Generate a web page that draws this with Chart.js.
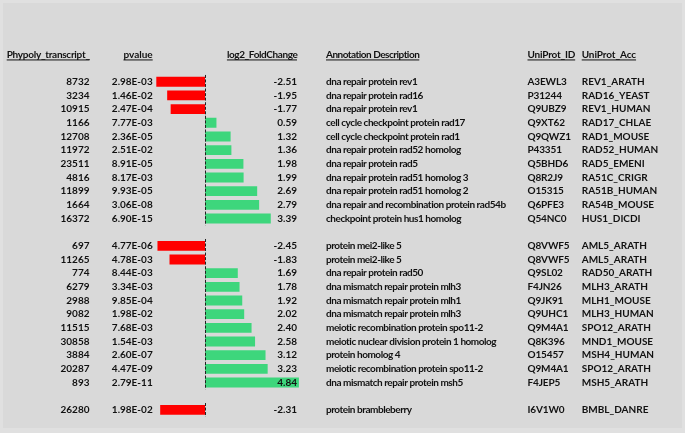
<!DOCTYPE html>
<html>
<head>
<meta charset="utf-8">
<script src="https://cdn.jsdelivr.net/npm/chart.js@4"></script>
<style>
  html, body { margin: 0; padding: 0; background: #e2e2e2; }
  #wrap { width: 685px; height: 433px; }
</style>
</head>
<body>
<div id="wrap"><canvas id="c" width="685" height="433"></canvas></div>
<script>
const headers = ['Phypoly_transcript_', 'pvalue', 'log2_FoldChange', 'Annotation Description', 'UniProt_ID', 'UniProt_Acc'];
const groupSizes = [11, 11, 1];
const transcripts = ['8732','3234','10915','1166','12708','11972','23511','4816','11899','1664','16372','697','11265','774','6279','2988','9082','11515','30858','3884','20287','893','26280'];
const pvalues = ['2.98E-03','1.46E-02','2.47E-04','7.77E-03','2.36E-05','2.51E-02','8.91E-05','8.17E-03','9.93E-05','3.06E-08','6.90E-15','4.77E-06','4.78E-03','8.44E-03','3.34E-03','9.85E-04','1.98E-02','7.68E-03','1.54E-03','2.60E-07','4.47E-09','2.79E-11','1.98E-02'];
const log2fc = [-2.51,-1.95,-1.77,0.59,1.32,1.36,1.98,1.99,2.69,2.79,3.39,-2.45,-1.83,1.69,1.78,1.92,2.02,2.40,2.58,3.12,3.23,4.84,-2.31];
const descriptions = ['dna repair protein rev1','dna repair protein rad16','dna repair protein rev1','cell cycle checkpoint protein rad17','cell cycle checkpoint protein rad1','dna repair protein rad52 homolog','dna repair protein rad5','dna repair protein rad51 homolog 3','dna repair protein rad51 homolog 2','dna repair and recombination protein rad54b','checkpoint protein hus1 homolog','protein mei2-like 5','protein mei2-like 5','dna repair protein rad50','dna mismatch repair protein mlh3','dna mismatch repair protein mlh1','dna mismatch repair protein mlh3','meiotic recombination protein spo11-2','meiotic nuclear division protein 1 homolog','protein homolog 4','meiotic recombination protein spo11-2','dna mismatch repair protein msh5','protein brambleberry'];
const uniprotIds = ['A3EWL3','P31244','Q9UBZ9','Q9XT62','Q9QWZ1','P43351','Q5BHD6','Q8R2J9','O15315','Q6PFE3','Q54NC0','Q8VWF5','Q8VWF5','Q9SL02','F4JN26','Q9JK91','Q9UHC1','Q9M4A1','Q8K396','O15457','Q9M4A1','F4JEP5','I6V1W0'];
const uniprotAccs = ['REV1_ARATH','RAD16_YEAST','REV1_HUMAN','RAD17_CHLAE','RAD1_MOUSE','RAD52_HUMAN','RAD5_EMENI','RA51C_CRIGR','RA51B_HUMAN','RA54B_MOUSE','HUS1_DICDI','AML5_ARATH','AML5_ARATH','RAD50_ARATH','MLH3_ARATH','MLH1_MOUSE','MLH3_HUMAN','SPO12_ARATH','MND1_MOUSE','MSH4_HUMAN','SPO12_ARATH','MSH5_ARATH','BMBL_DANRE'];

// Build row table: header row, blank row, then groups separated by blank rows
const rows = [{type: 'header'}, {type: 'blank'}];
let k = 0;
groupSizes.forEach((n, gi) => {
  if (gi > 0) rows.push({type: 'blank'});
  for (let j = 0; j < n; j++, k++) rows.push({type: 'data', idx: k});
});
const labels = rows.map((r, i) => 'r' + i);
const values = rows.map(r => r.type === 'data' ? log2fc[r.idx] : null);
const colors = rows.map(r => (r.type === 'data' && log2fc[r.idx] < 0) ? '#ff0000' : '#3dd67c');

const FONT = 'bold 10px Lato, "Open Sans", sans-serif';
const TEXT = '#111111';

const bgPlugin = {
  id: 'bg',
  beforeDraw(chart) {
    const ctx = chart.ctx;
    ctx.save();
    ctx.fillStyle = '#e0e0e0';
    ctx.fillRect(0, 0, chart.width, chart.height);
    ctx.fillStyle = '#d9d9d9';
    ctx.fillRect(3, 3, chart.width - 6, chart.height - 8);
    ctx.restore();
  }
};

const tablePlugin = {
  id: 'table',
  afterDatasetsDraw(chart) {
    const ctx = chart.ctx;
    const y = chart.scales.y;
    const x = chart.scales.x;
    const zx = x.getPixelForValue(0);
    const band = y.getPixelForValue(1) - y.getPixelForValue(0);
    ctx.save();
    // dashed zero line on data rows
    ctx.strokeStyle = '#222';
    ctx.lineWidth = 1;
    ctx.setLineDash([3, 1.5]);
    rows.forEach((r, i) => {
      if (r.type !== 'data') return;
      const cy = y.getPixelForValue(i);
      ctx.beginPath();
      ctx.moveTo(Math.round(zx) + 0.5, cy - band / 2);
      ctx.lineTo(Math.round(zx) + 0.5, cy + band / 2);
      ctx.stroke();
    });
    ctx.setLineDash([]);
    ctx.font = FONT;
    ctx.fillStyle = TEXT;
    ctx.textBaseline = 'middle';
    const cols = [
      {x: 89.5, align: 'right', ls: 0, hls: -0.28},
      {x: 152.7, align: 'right', ls: 0, hls: 0},
      {x: 297, align: 'right', ls: 0, hls: -0.4},
      {x: 326, align: 'left', ls: -0.45, hls: -0.5},
      {x: 527.5, align: 'left', ls: -0.15, hls: -0.2},
      {x: 581.7, align: 'left', ls: 0, hls: -0.1}
    ];
    rows.forEach((r, i) => {
      const cy = y.getPixelForValue(i);
      let cells = null;
      const isHead = r.type === 'header';
      if (isHead) cells = headers;
      else if (r.type === 'data') {
        const d = r.idx;
        cells = [transcripts[d], pvalues[d], log2fc[d].toFixed(2), descriptions[d], uniprotIds[d], uniprotAccs[d]];
      }
      if (!cells) return;
      cells.forEach((t, c) => {
        const sp = isHead ? cols[c].hls : cols[c].ls;
        ctx.letterSpacing = sp + 'px';
        ctx.textAlign = cols[c].align;
        const ax = cols[c].align === 'right' ? cols[c].x - sp : cols[c].x;
        ctx.fillText(t, ax, cy);
        if (isHead) {
          const w = ctx.measureText(t).width + (cols[c].align === 'right' ? sp : 0);
          const x0 = cols[c].align === 'right' ? cols[c].x - w : cols[c].x;
          ctx.fillRect(x0, cy + 5, w, 1);
        }
      });
    });
    ctx.restore();
  }
};

new Chart(document.getElementById('c'), {
  type: 'bar',
  data: {
    labels: labels,
    datasets: [{
      data: values,
      backgroundColor: colors,
      borderWidth: 0,
      categoryPercentage: 1,
      barPercentage: 0.72
    }]
  },
  options: {
    indexAxis: 'y',
    responsive: false,
    animation: false,
    devicePixelRatio: 1,
    layout: { padding: { top: 47.6, bottom: 16.3, left: 0, right: 0 } },
    plugins: { legend: { display: false }, tooltip: { enabled: false } },
    scales: {
      x: { display: false, min: -205 / 19.4, max: 480 / 19.4 },
      y: { display: false, offset: true }
    }
  },
  plugins: [bgPlugin, tablePlugin]
});
</script>
</body>
</html>
